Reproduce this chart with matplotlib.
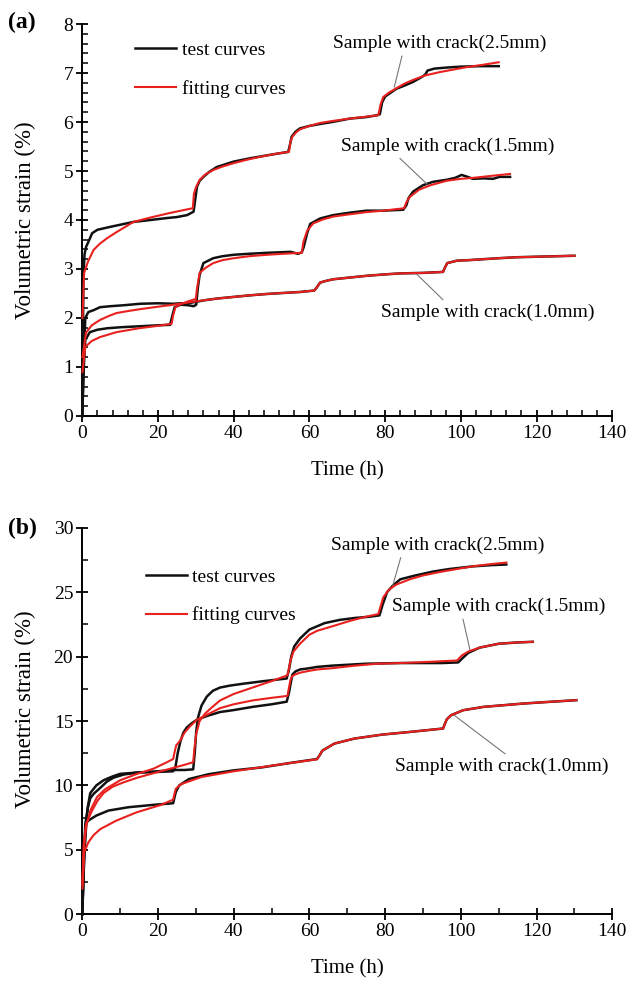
import matplotlib
matplotlib.use("Agg")
import matplotlib.pyplot as plt
from matplotlib.ticker import MultipleLocator
from matplotlib.lines import Line2D

plt.rcParams["font.family"] = ["Liberation Serif", "DejaVu Serif"]
plt.rcParams["mathtext.fontset"] = "stix"

# ---------------- panel (a) ----------------
# crack 2.5 mm
a25_t_test = [0, 0.3, 0.6, 1, 2, 2.6, 4, 7.4, 13.5, 18, 22.4, 25, 27.7, 29.4, 29.8, 30.3, 31, 32, 33.5, 35.5, 39.9, 44.3, 50.4, 54.4, 54.9, 55.3, 56.3, 57.5, 60, 62.8, 66, 70.7, 75, 78, 78.6, 79.2, 80, 81.5, 83, 85, 87.4, 89.7, 90.6, 91.2, 93, 96, 100, 105, 110]
a25_v_test = [0, 2.8, 3.3, 3.45, 3.62, 3.73, 3.8, 3.86, 3.96, 4.0, 4.04, 4.06, 4.1, 4.17, 4.4, 4.68, 4.8, 4.88, 4.98, 5.08, 5.19, 5.26, 5.34, 5.39, 5.55, 5.7, 5.8, 5.87, 5.92, 5.96, 6.0, 6.07, 6.1, 6.14, 6.16, 6.4, 6.52, 6.6, 6.68, 6.74, 6.82, 6.92, 6.97, 7.05, 7.09, 7.11, 7.13, 7.14, 7.14]
a25_t_fit = [0.05, 0.5, 1.5, 3, 4.7, 6.6, 9, 13.5, 18, 22.4, 26, 29.2, 29.5, 30, 31, 32.5, 34.6, 37, 40, 43.5, 47, 51, 54.6, 55, 55.5, 56.5, 57.5, 60, 62.8, 66, 70.7, 74, 78.2, 78.8, 79.5, 81, 83, 85, 87.4, 90.5, 94.5, 98, 101.5, 106, 110]
a25_v_fit = [2.0, 2.92, 3.15, 3.39, 3.52, 3.63, 3.75, 3.96, 4.05, 4.13, 4.19, 4.24, 4.54, 4.66, 4.82, 4.93, 5.02, 5.09, 5.16, 5.23, 5.29, 5.35, 5.39, 5.6, 5.7, 5.79, 5.85, 5.92, 5.98, 6.02, 6.07, 6.1, 6.14, 6.36, 6.51, 6.6, 6.69, 6.78, 6.86, 6.95, 7.02, 7.07, 7.12, 7.17, 7.22]

# crack 1.5 mm
a15_t_test = [0, 0.4, 0.8, 2, 4, 6.6, 10, 15, 20, 23.2, 23.8, 24.4, 25.9, 28, 29.4, 30.1, 30.5, 31, 32, 34.6, 37, 40, 44, 48.8, 52, 55, 57, 58, 58.5, 59.4, 60.2, 62.8, 66.3, 70.7, 75, 79.5, 84.8, 85.6, 86.2, 87.4, 90, 92.7, 96.2, 98.5, 100.2, 101.8, 103.2, 106, 108.5, 110.2, 113]
a15_v_test = [0, 1.0, 1.55, 1.71, 1.76, 1.79, 1.81, 1.83, 1.85, 1.86, 2.05, 2.22, 2.27, 2.26, 2.24, 2.27, 2.6, 2.88, 3.12, 3.22, 3.26, 3.29, 3.31, 3.33, 3.34, 3.35, 3.31, 3.34, 3.45, 3.73, 3.92, 4.03, 4.1, 4.15, 4.19, 4.19, 4.21, 4.3, 4.45, 4.58, 4.71, 4.78, 4.82, 4.86, 4.92, 4.88, 4.84, 4.85, 4.84, 4.88, 4.88]
a15_t_fit = [0.05, 0.8, 2.5, 4.7, 9, 15, 20, 23.6, 24, 24.6, 26, 27.6, 30, 30.3, 31, 32.5, 34.6, 37, 40, 44, 48.8, 53, 58, 58.4, 59.4, 61, 63.5, 66.3, 70, 75, 79.5, 85, 85.6, 86.5, 89, 92, 96.2, 100, 103.2, 108, 113]
a15_v_fit = [0.9, 1.41, 1.53, 1.61, 1.71, 1.79, 1.84, 1.88, 2.05, 2.22, 2.28, 2.33, 2.39, 2.6, 2.92, 3.02, 3.12, 3.18, 3.22, 3.26, 3.29, 3.31, 3.33, 3.55, 3.78, 3.93, 4.01, 4.07, 4.11, 4.16, 4.19, 4.24, 4.36, 4.47, 4.62, 4.71, 4.8, 4.84, 4.86, 4.9, 4.94]

# crack 1.0 mm
a10_t_test = [0, 0.4, 0.8, 1.6, 3, 4.7, 7.4, 11, 15.3, 20, 24, 26, 28, 30, 33, 36, 40, 44, 48.8, 53, 57.5, 61.3, 62, 62.8, 64, 66.3, 70, 75, 80, 84, 90, 95.3, 95.8, 96.4, 99, 102, 106, 110, 114.8, 120, 125, 130]
a10_v_test = [0, 1.2, 2.0, 2.12, 2.16, 2.22, 2.24, 2.26, 2.29, 2.3, 2.29, 2.3, 2.3, 2.33, 2.37, 2.4, 2.43, 2.46, 2.49, 2.51, 2.53, 2.56, 2.63, 2.72, 2.75, 2.79, 2.82, 2.86, 2.89, 2.91, 2.92, 2.94, 3.03, 3.12, 3.17, 3.18, 3.2, 3.22, 3.24, 3.25, 3.26, 3.27]
a10_t_fit = [0.05, 1, 2.5, 4.7, 7, 9, 12, 15.3, 20, 24, 27.5, 31, 35, 40, 44, 48.8, 53, 57.5, 61.3, 62, 62.8, 64, 66.3, 70, 75, 80, 84, 90, 95.3, 95.8, 96.4, 99, 102, 106, 110, 114.8, 120, 125, 130]
a10_v_fit = [1.2, 1.7, 1.85, 1.96, 2.04, 2.1, 2.14, 2.18, 2.23, 2.27, 2.31, 2.35, 2.39, 2.43, 2.46, 2.49, 2.51, 2.53, 2.56, 2.63, 2.72, 2.75, 2.79, 2.82, 2.86, 2.89, 2.91, 2.92, 2.94, 3.03, 3.12, 3.17, 3.18, 3.2, 3.22, 3.24, 3.25, 3.26, 3.27]

# ---------------- panel (b) ----------------
b25_t_test = [0, 0.4, 0.8, 1.5, 2.1, 3, 4.7, 6.5, 8.2, 11, 14.5, 20, 24, 27, 29.3, 29.7, 30.1, 30.6, 31.5, 32.9, 34.5, 36.4, 39, 42.6, 48, 54, 54.6, 55.2, 56, 57.5, 60, 64, 68, 72, 76, 78.5, 79.3, 80.5, 82, 84, 88, 92.6, 97, 103, 108, 112]
b25_v_test = [0, 4.0, 7.0, 8.3, 9.0, 9.35, 9.8, 10.3, 10.6, 10.85, 11.0, 11.1, 11.2, 11.2, 11.25, 12.5, 14.2, 15.3, 16.2, 16.9, 17.35, 17.6, 17.75, 17.9, 18.1, 18.3, 19.0, 20.0, 20.8, 21.4, 22.1, 22.6, 22.85, 23.0, 23.1, 23.2, 24.0, 25.0, 25.5, 26.0, 26.3, 26.6, 26.8, 27.0, 27.1, 27.15]
b25_t_fit = [0.05, 0.4, 1, 2.5, 4, 5.6, 8, 11, 14.5, 18.8, 23.2, 27, 29.3, 29.6, 30.1, 31, 32.5, 34, 36.4, 40, 45, 50, 54.2, 54.6, 55, 55.8, 57.5, 60, 62, 66, 71, 75, 78.2, 78.8, 79.5, 81, 83, 86.5, 90, 95, 99, 103, 107, 112]
b25_v_fit = [2.5, 5.5, 7.0, 8.0, 8.8, 9.4, 9.9, 10.25, 10.6, 10.95, 11.3, 11.6, 11.8, 12.8, 14.0, 15.0, 15.6, 16.0, 16.6, 17.1, 17.6, 18.1, 18.55, 19.1, 19.7, 20.4, 21.0, 21.7, 22.0, 22.35, 22.8, 23.1, 23.3, 23.9, 24.6, 25.2, 25.6, 26.0, 26.3, 26.6, 26.8, 27.0, 27.15, 27.3]

b15_t_test = [0, 0.4, 0.8, 1.5, 2.1, 3.7, 5.6, 8, 10, 14.5, 20, 24, 24.6, 25.2, 25.9, 26.7, 27.6, 29, 30.3, 33, 36.4, 40, 45, 50, 54, 54.6, 55.1, 55.5, 56.3, 57.5, 60, 62, 66, 75, 84, 95, 99.3, 100.5, 102, 105, 110, 115, 119]
b15_v_test = [0, 3.5, 6.5, 8.4, 9.4, 10.0, 10.4, 10.7, 10.9, 11.0, 11.05, 11.1, 11.4, 12.5, 13.4, 14.1, 14.5, 14.85, 15.1, 15.4, 15.7, 15.85, 16.1, 16.3, 16.5, 17.2, 18.0, 18.6, 18.85, 19.0, 19.1, 19.2, 19.3, 19.45, 19.5, 19.5, 19.55, 19.9, 20.3, 20.7, 21.0, 21.1, 21.15]
b15_t_fit = [0.05, 0.4, 1, 2.2, 3.9, 6, 10, 14, 18.8, 22, 24, 24.4, 24.8, 25.9, 27, 28.5, 30.3, 33, 36.4, 40, 45, 50, 54.2, 54.6, 55, 55.5, 56.5, 57.5, 60, 62, 66, 72, 78, 84, 92, 99, 100.3, 102, 105, 110, 115, 119]
b15_v_fit = [2.3, 5.0, 6.8, 8.1, 9.1, 9.7, 10.4, 10.85, 11.3, 11.75, 12.05, 12.6, 13.1, 13.5, 14.1, 14.6, 15.1, 15.5, 16.0, 16.3, 16.6, 16.8, 16.95, 17.6, 18.2, 18.5, 18.65, 18.75, 18.9, 19.0, 19.1, 19.3, 19.45, 19.5, 19.6, 19.7, 20.1, 20.4, 20.7, 21.0, 21.1, 21.15]

b10_t_test = [0, 0.5, 1.1, 2, 3.7, 6.9, 12.2, 18.6, 24, 24.3, 24.7, 25.6, 28.2, 33.5, 40, 47.4, 55, 62, 62.6, 63.4, 66.6, 71.9, 79.3, 86.8, 95.3, 95.8, 96.3, 97.4, 100.6, 106, 116.6, 124, 130.5]
b10_v_test = [0, 4.5, 7.14, 7.35, 7.66, 8.05, 8.31, 8.49, 8.62, 9.0, 9.48, 10.0, 10.5, 10.88, 11.17, 11.4, 11.75, 12.05, 12.3, 12.7, 13.25, 13.64, 13.95, 14.16, 14.42, 14.8, 15.14, 15.45, 15.84, 16.1, 16.36, 16.5, 16.62]
b10_t_fit = [0.05, 0.5, 1.6, 3, 4.8, 9, 14.4, 20.8, 24, 24.4, 24.7, 26.1, 31.4, 40, 50.6, 62, 62.6, 63.4, 66.6, 71.9, 79.3, 86.8, 95.3, 95.8, 96.3, 97.4, 100.6, 106, 116.6, 124, 130.5]
b10_v_fit = [2.0, 4.8, 5.58, 6.15, 6.62, 7.27, 7.92, 8.49, 8.9, 9.4, 9.74, 10.1, 10.65, 11.1, 11.56, 12.03, 12.3, 12.7, 13.25, 13.64, 13.95, 14.16, 14.42, 14.8, 15.14, 15.45, 15.84, 16.1, 16.36, 16.5, 16.62]

crack_labels = ["Sample with crack(2.5mm)", "Sample with crack(1.5mm)", "Sample with crack(1.0mm)"]

BLACK = "#111111"
RED = "#e8201e"


def style_axis(ax, ymax, ymaj, ymin, xmin_step):
    ax.set_xlim(0, 140)
    ax.set_ylim(0, ymax)
    ax.spines["top"].set_visible(False)
    ax.spines["right"].set_visible(False)
    for s in ("left", "bottom"):
        ax.spines[s].set_linewidth(1.4)
    ax.xaxis.set_major_locator(MultipleLocator(20))
    ax.xaxis.set_minor_locator(MultipleLocator(xmin_step))
    ax.yaxis.set_major_locator(MultipleLocator(ymaj))
    ax.yaxis.set_minor_locator(MultipleLocator(ymin))
    ax.tick_params(which="major", direction="inout", length=9, width=1.3, labelsize=14, pad=2)
    ax.tick_params(which="minor", direction="in", length=4, width=1.1)
    ax.set_xlabel("Time (h)", fontsize=15)
    ax.set_ylabel("Volumetric strain (%)", fontsize=16.5)


def draw_pair(ax, t_test, v_test, t_fit, v_fit):
    ax.plot(t_test, v_test, color=BLACK, lw=1.8, clip_on=False, zorder=3)
    ax.plot(t_fit, v_fit, color=RED, lw=1.5, clip_on=False, zorder=4)


def add_legend(ax, anchor):
    handles = [Line2D([], [], color=BLACK, lw=1.8), Line2D([], [], color=RED, lw=1.5)]
    ax.legend(handles, ["test curves", "fitting curves"], loc="upper left",
              bbox_to_anchor=anchor, frameon=False, fontsize=14,
              handlelength=2.1, handletextpad=0.3, labelspacing=1.05,
              borderaxespad=0)


def label_curve(ax, text, xy, xytext, relpos):
    ax.annotate(text, xy=xy, xytext=xytext, ha="center", va="center", fontsize=14,
                arrowprops=dict(arrowstyle="-", color="#777777", lw=0.8,
                                relpos=relpos, shrinkA=1, shrinkB=0))


fig = plt.figure(figsize=(6.28, 9.81), dpi=100)
ax_a = fig.add_axes([0.131, 0.576, 0.844, 0.3995])
ax_b = fig.add_axes([0.131, 0.068, 0.844, 0.394])

# (a)
draw_pair(ax_a, a25_t_test, a25_v_test, a25_t_fit, a25_v_fit)
draw_pair(ax_a, a15_t_test, a15_v_test, a15_t_fit, a15_v_fit)
draw_pair(ax_a, a10_t_test, a10_v_test, a10_t_fit, a10_v_fit)
style_axis(ax_a, 8, 1, 0.2, 4)
add_legend(ax_a, (0.085, 0.975))
label_curve(ax_a, crack_labels[0], (82.4, 6.71), (94.3, 7.61), (0.33, 0))
label_curve(ax_a, crack_labels[1], (91.1, 4.73), (96.4, 5.51), (0.26, 0))
label_curve(ax_a, crack_labels[2], (88.0, 2.92), (107.0, 2.12), (0.31, 1))

# (b)
draw_pair(ax_b, b25_t_test, b25_v_test, b25_t_fit, b25_v_fit)
draw_pair(ax_b, b15_t_test, b15_v_test, b15_t_fit, b15_v_fit)
draw_pair(ax_b, b10_t_test, b10_v_test, b10_t_fit, b10_v_fit)
style_axis(ax_b, 30, 5, 2.5, 10)
add_legend(ax_b, (0.105, 0.915))
label_curve(ax_b, crack_labels[0], (81.9, 25.4), (94.0, 28.67), (0.33, 0))
label_curve(ax_b, crack_labels[1], (102.5, 20.4), (109.9, 23.9), (0.33, 0))
label_curve(ax_b, crack_labels[2], (98.0, 15.5), (110.7, 11.5), (0.54, 1))

ax_a.yaxis.set_label_coords(-0.088, 0.5)
ax_b.yaxis.set_label_coords(-0.088, 0.53)
for ax in (ax_a, ax_b):
    ax.xaxis.set_label_coords(0.5, -0.115)

fig.text(0.012, 1 - 22 / 981, "(a)", fontsize=17, fontweight="bold", va="center")
fig.text(0.012, 1 - 528 / 981, "(b)", fontsize=17, fontweight="bold", va="center")

fig.savefig("out.png", dpi=100)
